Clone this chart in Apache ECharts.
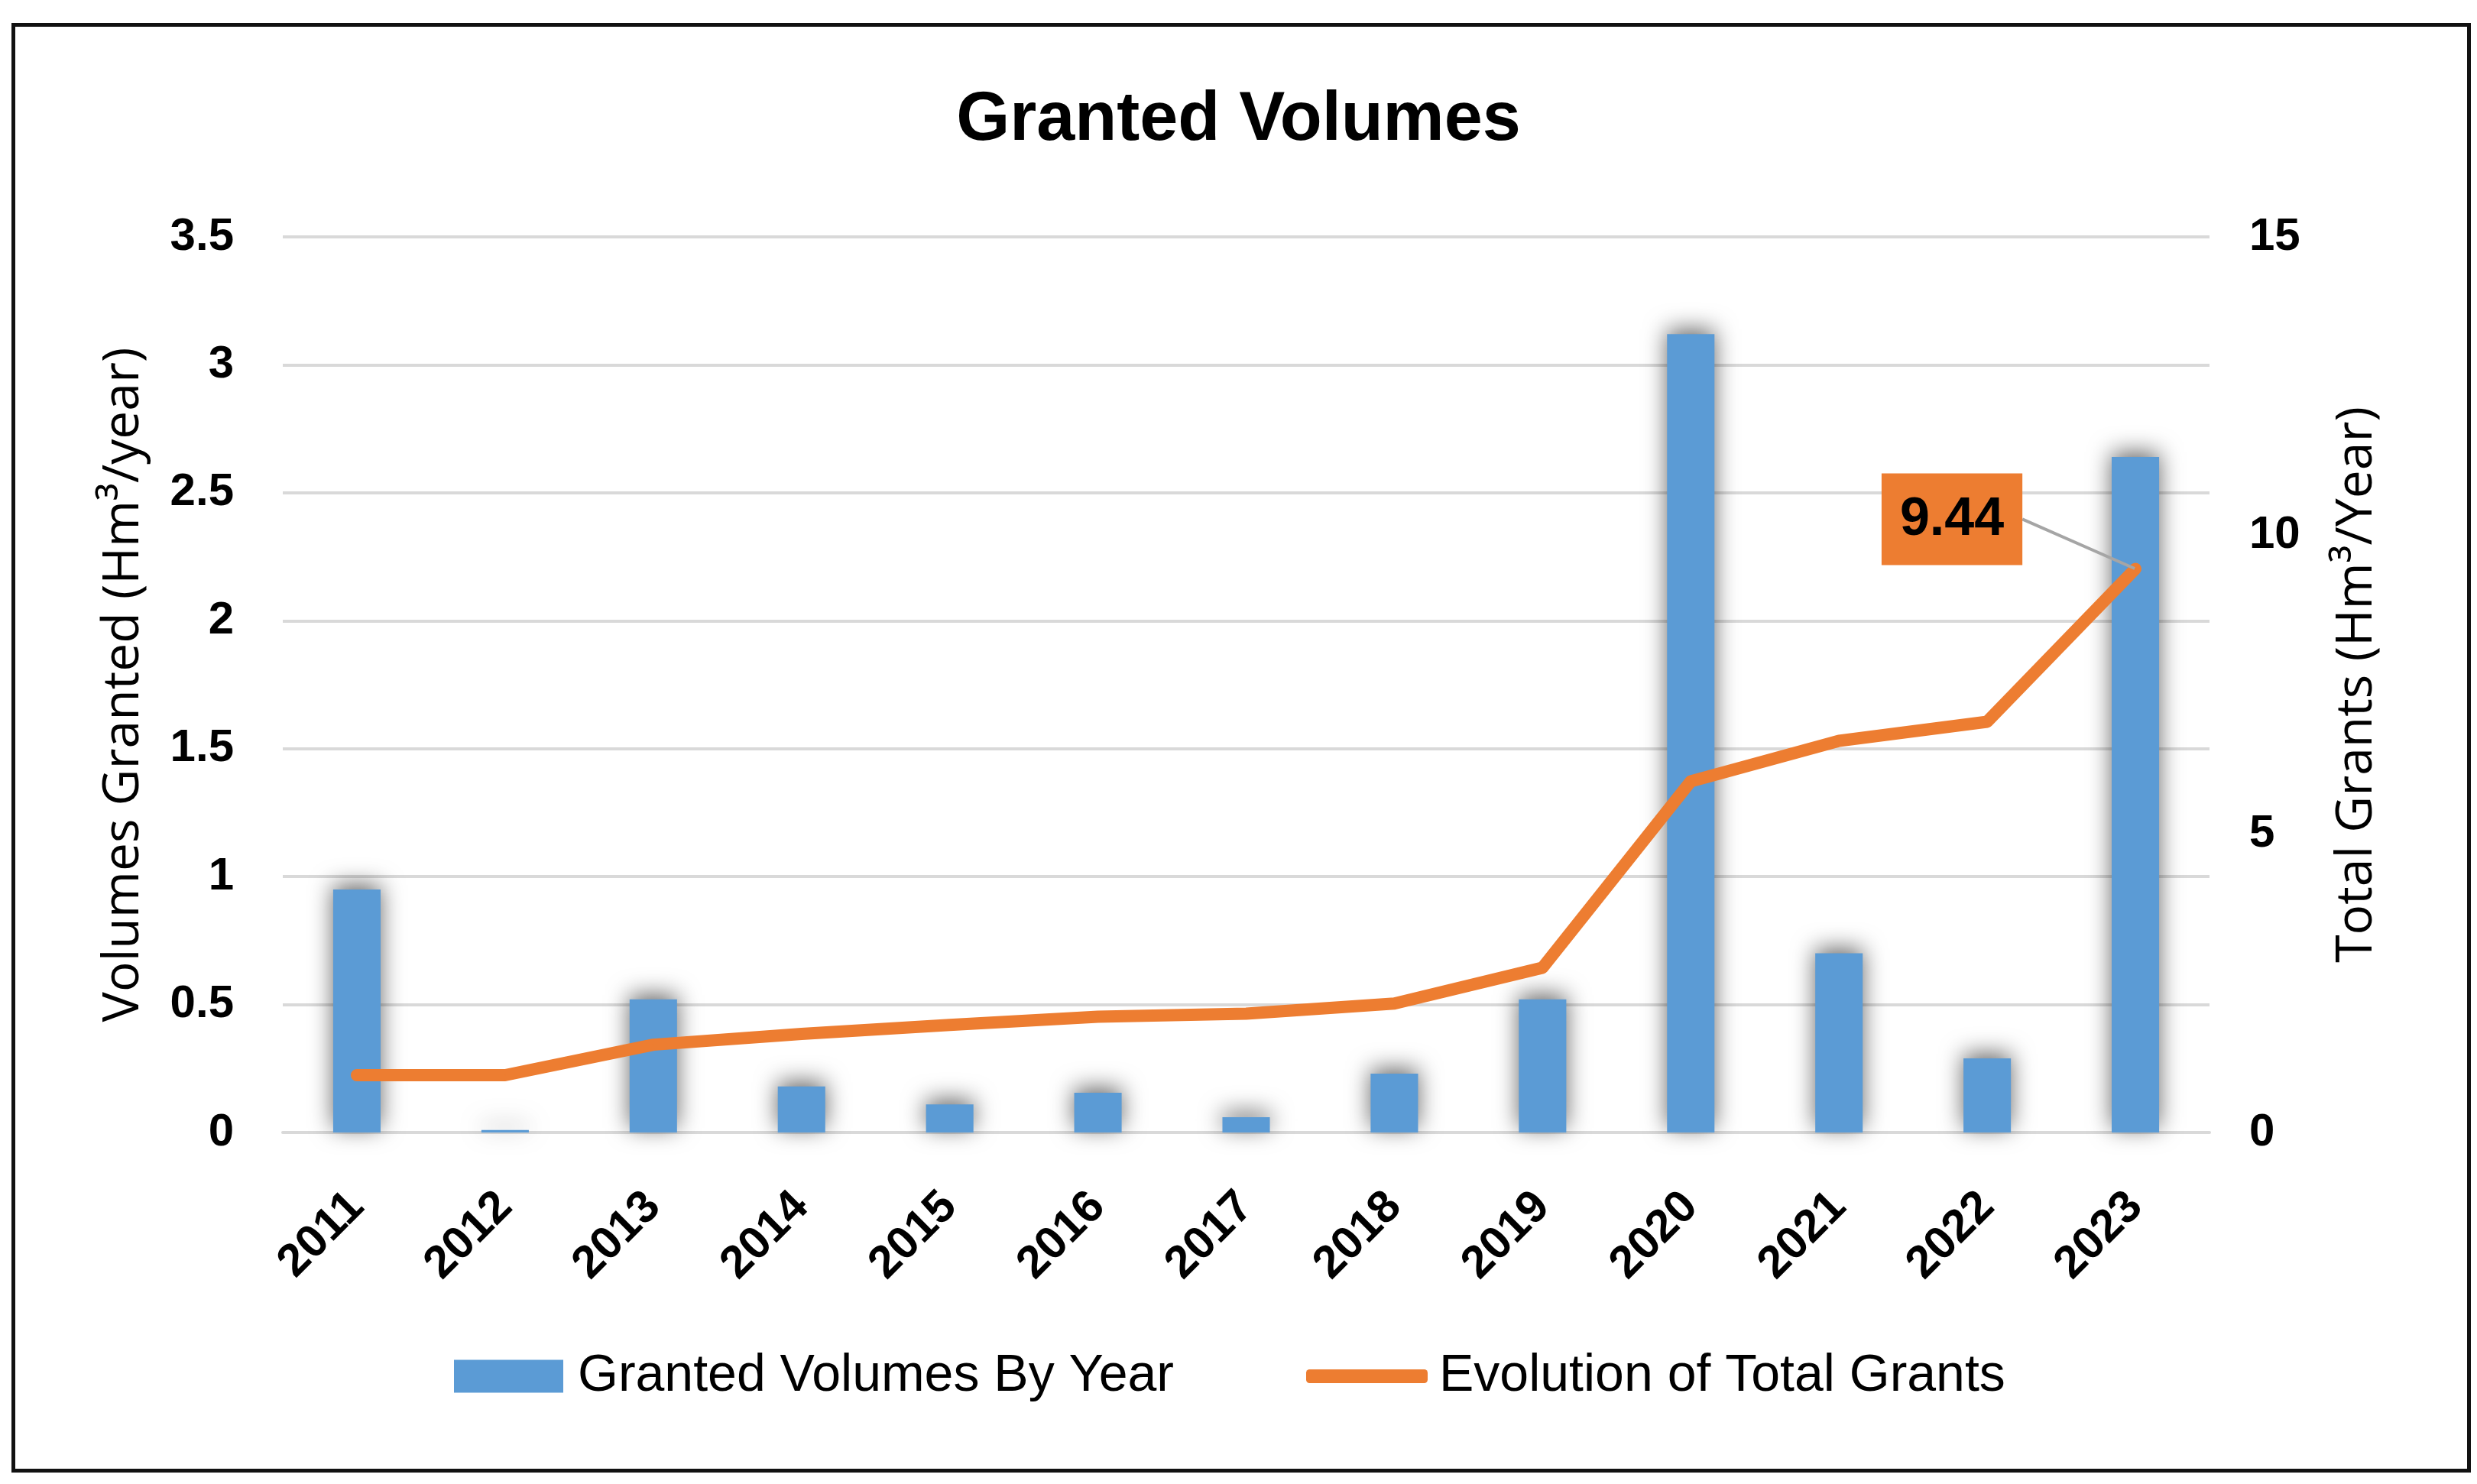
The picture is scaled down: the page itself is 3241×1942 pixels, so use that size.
<!DOCTYPE html>
<html>
<head>
<meta charset="utf-8">
<title>Granted Volumes</title>
<script src="https://cdn.jsdelivr.net/npm/echarts@6/dist/echarts.min.js"></script>
<style>
  html, body { margin: 0; padding: 0; background: #fff; }
  #main { width: 3241px; height: 1942px; }
</style>
</head>
<body>
<div id="main"></div>
<script>
// 数据
var years = ['2011', '2012', '2013', '2014', '2015', '2016', '2017', '2018', '2019', '2020', '2021', '2022', '2023'];
var grantedByYear = [0.95, 0.01, 0.52, 0.18, 0.11, 0.155, 0.06, 0.23, 0.52, 3.12, 0.70, 0.29, 2.64];
var totalGrants = [0.96, 0.96, 1.47, 1.65, 1.80, 1.94, 1.99, 2.16, 2.76, 5.88, 6.56, 6.88, 9.44];
var leftTicks = { min: 0, max: 3.5, interval: 0.5 };
var rightTicks = { min: 0, max: 15, interval: 5 };

(function () {
  var myChart = echarts.init(document.getElementById('main'));
  var last = totalGrants.length - 1;
  var tickFont = 'Liberation Sans';

  // 只给最后一个点加标签
  var lineData = totalGrants.map(function (v, i) {
    if (i !== last) return v;
    return {
      value: v,
      label: {
        show: true,
        formatter: '{c}',
        color: '#000',
        fontFamily: tickFont,
        fontWeight: 'bold',
        fontSize: 70,
        backgroundColor: '#ED7D31',
        padding: [26, 24, 24, 24]
      },
      labelLine: {
        show: true,
        lineStyle: { color: '#A5A5A5', width: 4 }
      }
    };
  });

  var option = {
    backgroundColor: '#fff',
    animation: false,
    // 外框
    graphic: [{
      type: 'rect',
      left: 15,
      top: 30,
      shape: { width: 3213, height: 1892 },
      style: { fill: 'none', stroke: '#111', lineWidth: 5 },
      silent: true
    }],
    title: {
      text: 'Granted Volumes',
      left: 'center',
      top: 108,
      textStyle: {
        fontFamily: tickFont,
        fontWeight: 'bold',
        fontSize: 90,
        color: '#000'
      }
    },
    legend: [{
      data: ['Granted Volumes By Year'],
      left: 589,
      top: 1761,
      icon: 'rect',
      itemWidth: 143,
      itemHeight: 43,
      textStyle: {
        fontFamily: tickFont,
        fontSize: 68,
        lineHeight: 70,
        color: '#000',
        padding: [0, 0, 0, 14]
      }
    }, {
      data: ['Evolution of Total Grants'],
      left: 1704,
      top: 1761,
      icon: 'roundRect',
      itemWidth: 159,
      itemHeight: 18,
      textStyle: {
        fontFamily: tickFont,
        fontSize: 68,
        lineHeight: 70,
        color: '#000',
        padding: [0, 0, 0, 10]
      }
    }],
    grid: {
      left: 370,
      right: 350,
      top: 310,
      bottom: 460
    },
    xAxis: {
      type: 'category',
      data: years,
      axisTick: { show: false },
      axisLine: { show: true, lineStyle: { color: '#D9D9D9', width: 4 } },
      axisLabel: {
        rotate: 45,
        margin: 88,
        color: '#000',
        fontFamily: tickFont,
        fontWeight: 'bold',
        fontSize: 60
      }
    },
    yAxis: [{
      type: 'value',
      min: leftTicks.min,
      max: leftTicks.max,
      interval: leftTicks.interval,
      name: 'Volumes Granted (Hm³/year)',
      nameLocation: 'middle',
      nameGap: 175,
      nameTextStyle: { fontFamily: 'Open Sans', fontSize: 66, color: '#000' },
      axisLine: { show: false },
      axisTick: { show: false },
      splitLine: { lineStyle: { color: '#D9D9D9', width: 4 } },
      axisLabel: {
        margin: 64,
        color: '#000',
        fontFamily: tickFont,
        fontWeight: 'bold',
        fontSize: 60
      }
    }, {
      type: 'value',
      min: rightTicks.min,
      max: rightTicks.max,
      interval: rightTicks.interval,
      name: 'Total Grants (Hm³/Year)',
      nameLocation: 'middle',
      nameGap: 160,
      nameTextStyle: { fontFamily: 'Open Sans', fontSize: 66, color: '#000' },
      axisLine: { show: false },
      axisTick: { show: false },
      splitLine: { show: false },
      axisLabel: {
        margin: 52,
        color: '#000',
        fontFamily: tickFont,
        fontWeight: 'bold',
        fontSize: 60
      }
    }],
    series: [{
      name: 'Granted Volumes By Year',
      type: 'bar',
      yAxisIndex: 0,
      barWidth: '32%',
      itemStyle: {
        color: '#5B9BD5',
        shadowBlur: 30,
        shadowColor: 'rgba(0,0,0,0.6)',
        shadowOffsetY: -6
      },
      data: grantedByYear
    }, {
      name: 'Evolution of Total Grants',
      type: 'line',
      yAxisIndex: 1,
      symbol: 'circle',
      symbolSize: 2,
      showSymbol: true,
      itemStyle: { color: '#ED7D31' },
      lineStyle: { color: '#ED7D31', width: 16, cap: 'round', join: 'round' },
      labelLayout: { dx: -240, dy: 1 },
      z: 3,
      data: lineData
    }]
  };

  myChart.setOption(option);
  window.addEventListener('resize', function () {
    myChart.resize();
  });
})();
</script>
</body>
</html>
